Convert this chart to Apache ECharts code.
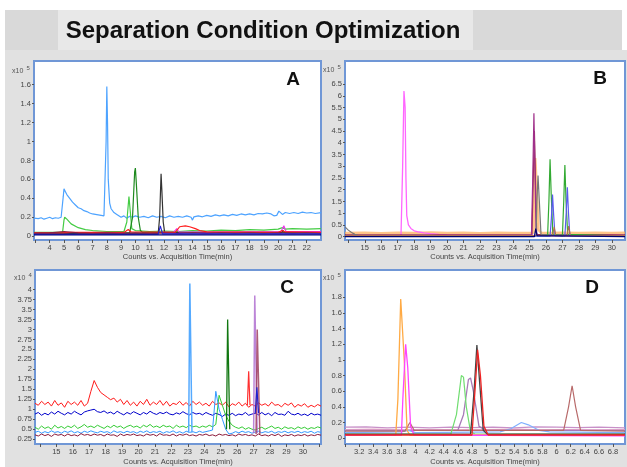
<!DOCTYPE html>
<html><head><meta charset="utf-8">
<script src="https://cdn.jsdelivr.net/npm/echarts@6/dist/echarts.min.js"></script>
<style>html,body{margin:0;padding:0;background:#fff}#c{width:627px;height:467px}</style>
</head><body><div id="c"></div>
<script>
// ---------- tick labels ----------
const ticksA = [3,4,5,6,7,8,9,10,11,12,13,14,15,16,17,18,19,20,21,22];
const labelsA = [4,5,6,7,8,9,10,11,12,13,14,15,16,17,18,19,20,21,22];
const yLabelsA = [0,0.2,0.4,0.6,0.8,1,1.2,1.4,1.6];
const ticksB = [14,15,16,17,18,19,20,21,22,23,24,25,26,27,28,29,30];
const labelsB = [15,16,17,18,19,20,21,22,23,24,25,26,27,28,29,30];
const yLabelsB = [0,0.5,1,1.5,2,2.5,3,3.5,4,4.5,5,5.5,6,6.5];
const ticksC = [14,15,16,17,18,19,20,21,22,23,24,25,26,27,28,29,30,31];
const labelsC = [15,16,17,18,19,20,21,22,23,24,25,26,27,28,29,30];
const yLabelsC = [0.25,0.5,0.75,1,1.25,1.5,1.75,2,2.25,2.5,2.75,3,3.25,3.5,3.75,4];
const ticksD = [3,3.2,3.4,3.6,3.8,4,4.2,4.4,4.6,4.8,5,5.2,5.4,5.6,5.8,6,6.2,6.4,6.6,6.8];
const labelsD = [3.2,3.4,3.6,3.8,4,4.2,4.4,4.6,4.8,5,5.2,5.4,5.6,5.8,6,6.2,6.4,6.6,6.8];
const yLabelsD = [0,0.2,0.4,0.6,0.8,1,1.2,1.4,1.6,1.8];

// ---------- Panel A (x10^5 counts) ----------
const A_lightblue = [[2.9,0.19],[3.2,0.185],[3.4,0.195],[3.6,0.18],[3.8,0.19],[4.0,0.2],[4.2,0.185],[4.4,0.195],[4.6,0.19],[4.8,0.2],[4.9,0.21],[4.95,0.42],[5.0,0.5],[5.1,0.47],[5.2,0.44],[5.3,0.45],[5.4,0.4],[5.6,0.36],[5.8,0.33],[6.0,0.3],[6.2,0.29],[6.4,0.27],[6.6,0.26],[6.8,0.245],[7.0,0.235],[7.2,0.23],[7.4,0.225],[7.6,0.22],[7.8,0.215],[7.9,0.22],[7.95,1.0],[8.0,1.58],[8.05,1.2],[8.1,0.6],[8.2,0.35],[8.3,0.29],[8.5,0.25],[8.7,0.23],[9.0,0.2],[9.2,0.215],[9.4,0.19],[9.6,0.21],[9.8,0.2],[10.0,0.215],[10.3,0.2],[10.6,0.21],[10.9,0.195],[11.2,0.215],[11.5,0.2],[11.8,0.21],[12.1,0.195],[12.4,0.215],[12.7,0.2],[13.0,0.21],[13.3,0.2],[13.6,0.215],[13.9,0.2],[14.0,0.17],[14.1,0.205],[14.4,0.215],[14.7,0.205],[15.0,0.22],[15.3,0.21],[15.6,0.225],[15.9,0.215],[16.2,0.225],[16.5,0.215],[16.8,0.23],[17.1,0.22],[17.4,0.235],[17.7,0.225],[18.0,0.235],[18.3,0.225],[18.6,0.24],[18.9,0.235],[19.2,0.245],[19.5,0.235],[19.7,0.215],[19.8,0.205],[19.9,0.22],[20.05,0.265],[20.3,0.23],[20.5,0.25],[20.8,0.24],[21.1,0.25],[21.4,0.24],[21.7,0.255],[22.0,0.245],[22.3,0.25],[22.6,0.24],[23.0,0.25]];
const A_green = [[2.9,0.04],[4.9,0.04],[5.0,0.17],[5.05,0.2],[5.2,0.18],[5.5,0.13],[6.0,0.09],[6.5,0.07],[7.0,0.06],[8.0,0.05],[9.2,0.05],[9.4,0.15],[9.55,0.42],[9.65,0.25],[9.75,0.08],[10.0,0.06],[11.0,0.05],[12.0,0.055],[13.0,0.05],[14.0,0.06],[15.0,0.055],[16.0,0.065],[17.0,0.06],[18.0,0.07],[19.0,0.065],[20.0,0.075],[20.3,0.09],[20.5,0.075],[21.0,0.08],[22.0,0.075],[23.0,0.08]];
const A_darkgreen = [[2.9,0.035],[9.6,0.035],[9.8,0.2],[9.95,0.68],[10.0,0.72],[10.05,0.6],[10.2,0.2],[10.35,0.06],[10.5,0.04],[23.0,0.04]];
const A_black = [[2.9,0.03],[11.6,0.03],[11.7,0.2],[11.8,0.66],[11.85,0.5],[11.95,0.15],[12.05,0.04],[20.2,0.035],[20.35,0.06],[20.5,0.035],[23.0,0.035]];
const A_red = [[2.9,0.035],[4.9,0.035],[5.0,0.05],[5.5,0.04],[9.2,0.04],[9.5,0.07],[9.7,0.045],[12.8,0.04],[13.1,0.1],[13.5,0.11],[13.8,0.1],[14.2,0.08],[14.5,0.06],[15.0,0.045],[20.0,0.04],[20.3,0.06],[20.5,0.045],[23.0,0.04]];
const A_magenta = [[11.9,0.04],[12.7,0.045],[12.9,0.08],[13.05,0.045],[16.0,0.045],[20.2,0.05],[20.4,0.11],[20.55,0.05],[23.0,0.05]];
const A_blue = [[2.9,0.02],[11.6,0.02],[11.75,0.11],[11.9,0.025],[23.0,0.025]];
const A_maroon = [[2.9,0.03],[4,0.035],[5,0.05],[6,0.035],[7,0.03],[8,0.035],[9,0.03],[10,0.035],[11,0.03],[12,0.035],[13,0.03],[14,0.035],[15,0.03],[16,0.035],[17,0.03],[18,0.035],[19,0.03],[20,0.035],[21,0.03],[22,0.035],[23,0.03]];
const A_navy = [[2.9,0.015],[23.0,0.015]];

// ---------- Panel B (x10^5 counts) ----------
const B_orange = [[13.8,0.16],[15,0.17],[16,0.15],[17,0.17],[18,0.16],[19,0.18],[20,0.16],[21,0.17],[22,0.15],[23,0.17],[24,0.16],[25.25,0.17],[25.35,3.35],[25.45,2.0],[25.55,0.3],[25.7,0.17],[26,0.16],[27,0.17],[28,0.16],[29,0.17],[30,0.16],[30.8,0.17]];
const B_magenta = [[13.8,0.05],[15,0.05],[17.2,0.06],[17.3,3.0],[17.38,6.2],[17.45,5.5],[17.5,2.5],[17.55,0.9],[17.65,0.5],[17.8,0.35],[18.0,0.25],[18.3,0.2],[18.6,0.16],[19.0,0.13],[19.5,0.1],[20.0,0.08],[21.0,0.07],[22.0,0.06],[25.0,0.06],[30.8,0.06]];
const B_maroon = [[13.8,0.08],[25.15,0.08],[25.22,2.2],[25.3,4.5],[25.36,2.5],[25.44,0.1],[30.8,0.08]];
const B_purple = [[13.8,0.03],[25.12,0.03],[25.2,2.5],[25.27,5.25],[25.33,3.0],[25.4,0.2],[25.5,0.03],[30.8,0.03]];
const B_gray = [[13.8,0.42],[13.9,0.35],[14.0,0.28],[14.2,0.18],[14.4,0.1],[14.6,0.06],[15.0,0.04],[25.4,0.04],[25.45,1.5],[25.52,2.6],[25.6,1.5],[25.7,0.1],[25.8,0.04],[30.8,0.04]];
const B_green = [[13.8,0.03],[26.1,0.03],[26.18,1.5],[26.25,3.3],[26.32,1.8],[26.42,0.1],[26.5,0.03],[27.0,0.03],[27.08,1.5],[27.15,3.05],[27.22,1.5],[27.32,0.1],[27.4,0.03],[30.8,0.03]];
const B_blue = [[13.8,0.02],[26.25,0.02],[26.33,0.8],[26.4,1.8],[26.47,0.9],[26.55,0.05],[27.15,0.03],[27.23,1.0],[27.3,2.1],[27.37,1.0],[27.45,0.05],[30.8,0.03]];
const B_brown = [[13.8,0.05],[26.4,0.05],[26.5,0.42],[26.6,0.05],[27.28,0.05],[27.38,0.45],[27.48,0.05],[30.8,0.05]];
const B_navy = [[13.8,0.0],[25.3,0.0],[25.38,0.35],[25.46,0.05],[25.55,0.0],[30.8,0.0]];

// ---------- Panel C (x10^4 counts), sampled every 0.2 min from 13.7 ----------
const C_red = [1.15,1.10,1.20,1.12,1.18,1.08,1.22,1.10,1.16,1.05,
  1.20,1.12,1.18,1.10,1.22,1.08,1.15,1.45,1.72,1.55,
  1.42,1.36,1.30,1.24,1.28,1.18,1.25,1.12,1.22,1.10,
  1.18,1.08,1.20,1.12,1.25,1.10,1.18,1.12,1.22,1.10,
  1.20,1.08,1.15,1.12,1.20,1.10,1.17,1.08,1.20,1.12,
  1.18,1.10,1.15,1.08,1.20,1.12,1.16,1.10,1.18,1.06,
  1.14,1.10,1.18,1.08,1.15,1.05,1.12,1.08,1.16,1.10,
  1.14,1.08,1.18,1.10,1.12,1.06,1.15,1.10,1.16,1.05,
  1.12,1.08,1.14,1.05,1.10,1.06,1.12,1.08];
const C_blue = [0.88,0.92,0.85,0.90,0.86,0.93,0.88,0.95,0.90,0.86,
  0.92,0.88,0.95,0.90,0.86,0.93,0.96,0.98,1.00,0.94,
  0.92,0.96,0.90,0.93,0.88,0.95,0.90,0.86,0.92,0.88,
  0.94,0.90,0.86,0.92,0.88,0.95,0.90,0.87,0.92,0.89,
  0.93,0.88,0.86,0.91,0.88,0.94,0.89,0.86,0.92,0.88,
  0.90,0.86,0.92,0.88,0.85,0.90,0.87,0.82,0.88,0.85,
  0.90,0.84,0.88,0.86,0.92,0.85,0.88,0.90,0.86,0.92,
  0.86,0.90,0.84,0.92,0.87,0.88,0.85,0.95,0.88,0.86,
  0.90,0.85,0.88,0.84,0.90,0.86,0.88,0.85];
const C_green = [0.55,0.50,0.58,0.52,0.56,0.50,0.60,0.53,0.57,0.52,
  0.58,0.54,0.60,0.52,0.56,0.62,0.55,0.58,0.54,0.60,
  0.56,0.52,0.58,0.54,0.60,0.55,0.58,0.52,0.57,0.60,
  0.55,0.58,0.53,0.60,0.56,0.62,0.55,0.58,0.54,0.60,
  0.56,0.58,0.52,0.60,0.55,0.58,0.54,0.60,0.56,0.58,
  0.54,0.58,0.55,0.60,0.56,0.62,1.35,1.10,0.85,0.70,
  0.60,0.55,0.52,0.56,0.50,0.54,0.50,0.48,0.52,0.55,
  0.50,0.54,0.58,0.52,0.55,0.50,0.56,0.52,0.54,0.50,
  0.56,0.52,0.55,0.50,0.54,0.52,0.56,0.53];
const C_lightblue = [0.42,0.45,0.40,0.44,0.41,0.46,0.42,0.44,0.40,0.45,
  0.42,0.46,0.41,0.44,0.40,0.45,0.42,0.46,0.43,0.41,
  0.45,0.42,0.44,0.40,0.46,0.42,0.44,0.41,0.45,0.42,
  0.44,0.40,0.45,0.42,0.46,0.41,0.44,0.42,0.45,0.40,
  0.44,0.42,0.46,0.41,0.44,0.40,0.45,0.42,0.44,0.41,
  0.45,0.42,0.44,0.46,0.48,1.45,1.00,0.75,0.50,0.38,
  0.40,0.44,0.41,0.45,0.42,0.44,0.40,0.43,0.45,0.41,
  0.44,0.42,0.45,0.40,0.44,0.42,0.45,0.41,0.44,0.42,
  0.45,0.41,0.44,0.42,0.45,0.40,0.44,0.42];
const C_maroon = [0.36,0.33,0.38,0.34,0.37,0.32,0.38,0.35,0.37,0.33,
  0.38,0.34,0.36,0.33,0.39,0.35,0.37,0.34,0.38,0.35,
  0.37,0.33,0.38,0.35,0.36,0.32,0.38,0.34,0.37,0.35,
  0.38,0.34,0.36,0.33,0.38,0.35,0.37,0.33,0.39,0.35,
  0.36,0.34,0.38,0.33,0.37,0.35,0.38,0.34,0.36,0.33,
  0.37,0.35,0.38,0.34,0.36,0.33,0.38,0.35,0.37,0.34,
  0.36,0.33,0.38,0.35,0.37,0.34,0.36,0.33,0.38,0.34,
  0.36,0.33,0.37,0.34,0.38,0.32,0.36,0.34,0.37,0.33,
  0.36,0.34,0.37,0.33,0.36,0.34,0.37,0.35];
const C_spike_lightblue = [[23.05,0.42],[23.12,4.15],[23.18,4.15],[23.25,0.42]];
const C_spike_darkgreen = [[25.35,0.5],[25.42,3.25],[25.48,3.25],[25.55,0.5]];
const C_spike_red = [[26.62,1.1],[26.7,1.95],[26.78,1.1]];
const C_spike_purple = [[27.0,0.4],[27.07,3.85],[27.15,3.85],[27.22,0.4]];
const C_spike_maroon = [[27.15,0.38],[27.22,3.0],[27.3,3.0],[27.38,0.38]];
const C_spike_blue = [[27.1,0.9],[27.2,1.55],[27.3,0.9]];

// ---------- Panel D (x10^5 counts) ----------
const D_lavender = [[3.0,0.14],[3.3,0.145],[3.6,0.13],[3.9,0.14],[4.2,0.13],[4.5,0.14],[4.8,0.135],[5.1,0.14],[5.4,0.13],[5.7,0.145],[6.0,0.14],[6.3,0.135],[6.6,0.14],[6.97,0.13]];
const D_pink = [[3.0,0.11],[3.4,0.115],[3.8,0.105],[4.2,0.11],[4.6,0.105],[5.0,0.11],[5.4,0.115],[5.8,0.105],[6.2,0.11],[6.6,0.105],[6.97,0.11]];
const D_purple = [[3.0,0.1],[4.6,0.1],[4.68,0.3],[4.75,0.75],[4.78,0.77],[4.82,0.6],[4.9,0.15],[5.0,0.1],[6.97,0.1]];
const D_lightblue = [[3.0,0.07],[3.8,0.08],[3.9,0.1],[4.0,0.07],[5.2,0.08],[5.35,0.12],[5.5,0.2],[5.6,0.17],[5.75,0.1],[5.9,0.08],[6.97,0.07]];
const D_brown = [[3.0,0.09],[3.85,0.09],[3.92,0.2],[3.98,0.1],[6.1,0.1],[6.17,0.4],[6.22,0.67],[6.27,0.4],[6.34,0.1],[6.97,0.09]];
const D_green = [[3.0,0.05],[4.5,0.05],[4.58,0.3],[4.65,0.8],[4.68,0.78],[4.72,0.4],[4.78,0.08],[4.85,0.05],[6.97,0.05]];
const D_orange = [[3.0,0.04],[3.72,0.04],[3.75,0.5],[3.79,1.78],[3.81,1.78],[3.84,1.0],[3.88,0.1],[3.92,0.04],[6.97,0.04]];
const D_magenta = [[3.0,0.04],[3.8,0.04],[3.82,0.5],[3.86,1.2],[3.89,0.9],[3.93,0.15],[3.98,0.04],[6.97,0.03]];
const D_black = [[3.0,0.05],[4.78,0.05],[4.83,0.6],[4.87,1.19],[4.91,0.7],[4.96,0.1],[5.02,0.05],[6.97,0.05]];
const D_red = [[3.0,0.04],[4.8,0.04],[4.85,0.7],[4.88,1.13],[4.92,0.8],[4.97,0.15],[5.03,0.04],[6.97,0.04]];

// ---------- build ----------
const tC = C_red.map((_, i) => +(13.7 + i * 0.2).toFixed(2));
const zipC = v => v.map((y, i) => [tC[i], y]);
const FONT = 'Liberation Sans, Arial, sans-serif';

const grids = [
  {left:34, top:61, right:306, bottom:227},
  {left:345, top:61, right:2, bottom:227},
  {left:35, top:270, right:306, bottom:20},
  {left:345, top:270, right:2, bottom:20}
].map(g => Object.assign(g, {show:true, backgroundColor:'#ffffff', borderColor:'#7097d6', borderWidth:2}));

function xAx(i, min, max, ticks, labels, gap) {
  return {type:'value', gridIndex:i, min, max, position:'bottom',
    name:'Counts vs. Acquisition Time(min)', nameLocation:'middle', nameGap:gap,
    nameTextStyle:{fontSize:7.5, color:'#444', fontFamily:FONT},
    axisLine:{show:false, onZero:false}, splitLine:{show:false},
    axisTick:{show:true, customValues:ticks, length:3, lineStyle:{color:'#555', width:1}},
    axisLabel:{customValues:labels, fontSize:7.5, color:'#444', margin:4, fontFamily:FONT}};
}
function yAx(i, min, max, labels) {
  return {type:'value', gridIndex:i, min, max, position:'left',
    axisLine:{show:false, onZero:false}, splitLine:{show:false},
    axisTick:{show:true, customValues:labels, length:2, lineStyle:{color:'#555', width:1}},
    axisLabel:{customValues:labels, fontSize:7.5, color:'#444', margin:3, fontFamily:FONT}};
}
function ln(i, data, color, width, opacity) {
  return {type:'line', xAxisIndex:i, yAxisIndex:i, data, showSymbol:false, symbol:'none',
    silent:true, animation:false,
    lineStyle:{color, width: width || 1.1, opacity: opacity == null ? 1 : opacity}};
}

const series = [
  // A
  ln(0, A_lightblue, '#4da3ff', 1.2),
  ln(0, A_green, '#44cc44', 1.2),
  ln(0, A_darkgreen, '#1f8a1f', 1.2),
  ln(0, A_black, '#333333', 1.2),
  ln(0, A_magenta, '#ee33ee', 1.1),
  ln(0, A_red, '#ff2020', 1.2),
  ln(0, A_maroon, '#8b2040', 1.2),
  ln(0, A_blue, '#2222dd', 1.1),
  ln(0, A_navy, '#000080', 1.2),
  // B
  ln(1, B_orange, '#ffb060', 2.5, 0.75),
  ln(1, B_magenta, '#ff66ff', 1.3),
  ln(1, B_maroon, '#9b2a4a', 1.2),
  ln(1, B_purple, '#a0308a', 1.2),
  ln(1, B_gray, '#777777', 1.2),
  ln(1, B_green, '#33aa33', 1.2),
  ln(1, B_blue, '#5a5aee', 1.2),
  ln(1, B_brown, '#b07050', 1.1),
  ln(1, B_navy, '#000070', 1.2),
  // C
  ln(2, zipC(C_red), '#ff1a1a', 1),
  ln(2, zipC(C_blue), '#0000cc', 1),
  ln(2, zipC(C_green), '#33cc33', 1),
  ln(2, zipC(C_lightblue), '#3399ff', 1),
  ln(2, zipC(C_maroon), '#8b1a3a', 1),
  ln(2, C_spike_lightblue, '#55aaff', 1.5),
  ln(2, C_spike_darkgreen, '#117711', 1.3),
  ln(2, C_spike_red, '#ff3030', 1.2),
  ln(2, C_spike_purple, '#b070d0', 1.5, 0.85),
  ln(2, C_spike_maroon, '#a04060', 1.5, 0.85),
  ln(2, C_spike_blue, '#2020cc', 1.2),
  // D
  ln(3, D_lavender, '#c890c8', 1.3),
  ln(3, D_pink, '#e8a8c8', 1.1),
  ln(3, D_purple, '#a87ab8', 1.3),
  ln(3, D_lightblue, '#80b0ff', 1.2),
  ln(3, D_brown, '#b86a6a', 1.2),
  ln(3, D_green, '#70dd70', 1.2),
  ln(3, D_orange, '#ffaa44', 1.3),
  ln(3, D_magenta, '#ff44ff', 1.3),
  ln(3, D_black, '#444444', 1.3),
  ln(3, D_red, '#ee2222', 1.3)
];

function expo(x, y, p) {
  return {type:'text', x, y, style:{text:'{a|x10} {b|' + p + '}', fontFamily:FONT,
    rich:{a:{fontSize:7, fill:'#555', fontFamily:FONT}, b:{fontSize:6, fill:'#555', verticalAlign:'top', padding:[0,0,5,0], fontFamily:FONT}},
    verticalAlign:'middle'}};
}
function letter(t, x, y) {
  return {type:'text', x, y, z:10, style:{text:t, fontSize:19, fontWeight:'bold', fill:'#111', fontFamily:FONT, align:'center', verticalAlign:'middle'}};
}

const option = {
  backgroundColor:'#ffffff',
  animation:false,
  grid: grids,
  xAxis: [xAx(0,2.9,23,ticksA,labelsA,13), xAx(1,13.8,30.8,ticksB,labelsB,13), xAx(2,13.7,31.1,ticksC,labelsC,14), xAx(3,3.0,6.97,ticksD,labelsD,14)],
  yAxis: [yAx(0,-0.04,1.85,yLabelsA), yAx(1,-0.14,7.48,yLabelsB), yAx(2,0.13,4.49,yLabelsC), yAx(3,-0.075,2.15,yLabelsD)],
  series,
  graphic: [
    {type:'rect', z:-10, silent:true, shape:{x:5, y:50, width:622, height:417}, style:{fill:'#e1e1e1'}},
    {type:'rect', z:-10, silent:true, shape:{x:5, y:10, width:617, height:40}, style:{fill:'#d9d9d9'}},
    {type:'rect', z:-9, silent:true, shape:{x:58, y:10, width:415, height:40}, style:{fill:'#e8e8e8'}},
    {type:'text', x:263, y:31, style:{text:'Separation Condition Optimization', fontSize:24, fontWeight:'bold', fill:'#111', fontFamily:FONT, align:'center', verticalAlign:'middle'}},
    expo(12, 71, 5), expo(323, 70, 5), expo(14, 278, 4), expo(323, 278, 5),
    letter('A', 293, 80), letter('B', 600, 79), letter('C', 287, 288), letter('D', 592, 288)
  ]
};
const chart = echarts.init(document.getElementById('c'), null, {renderer:'canvas'});
chart.setOption(option);
</script></body></html>
